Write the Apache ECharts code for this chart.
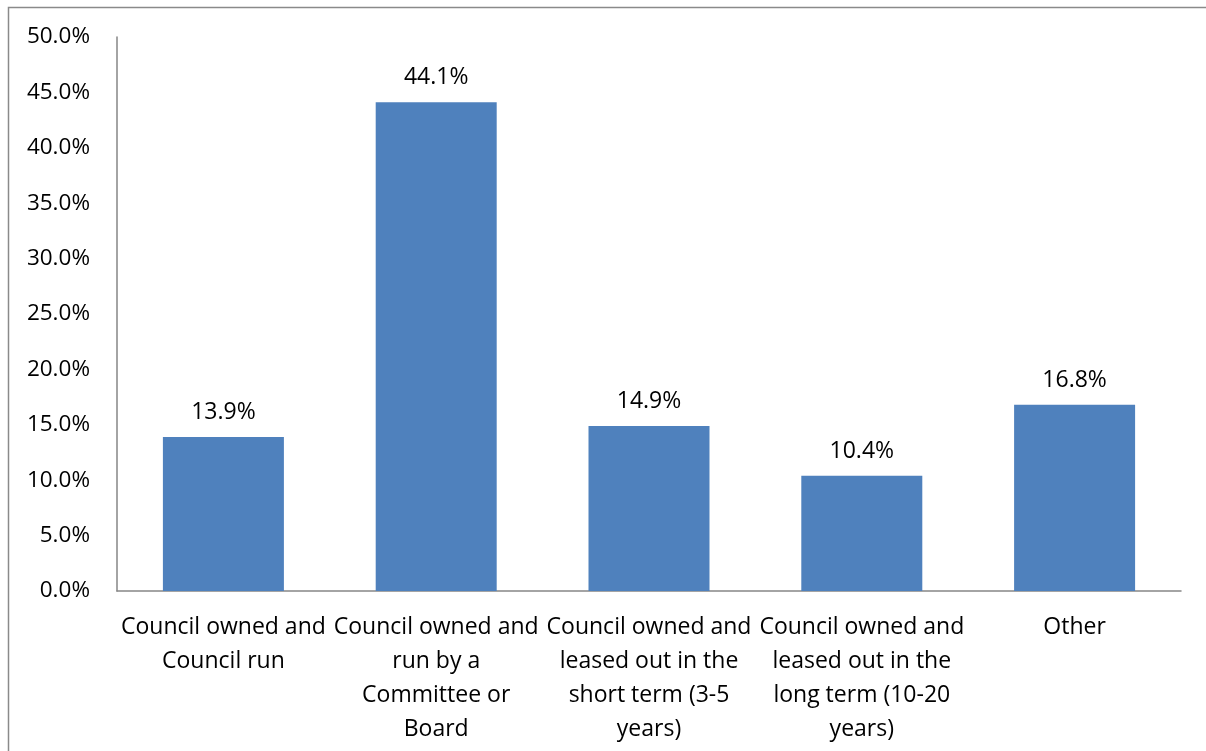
<!DOCTYPE html>
<html>
<head>
<meta charset="utf-8">
<script src="https://cdn.jsdelivr.net/npm/echarts@6/dist/echarts.min.js"></script>
<style>
  html, body { margin: 0; padding: 0; background: #fff; }
  #chart { width: 1206px; height: 751px; }
</style>
</head>
<body>
<div id="chart"></div>
<script>
// Ownership / management arrangements (share of respondents, %)
const categories = [
  'Council owned and\nCouncil run',
  'Council owned and\nrun by a\nCommittee or\nBoard',
  'Council owned and\nleased out in the\nshort term (3-5\nyears)',
  'Council owned and\nleased out in the\nlong term (10-20\nyears)',
  'Other'
];
const shares = [13.9, 44.1, 14.9, 10.4, 16.8];

const FONT = '"Open Sans", sans-serif';
const chart = echarts.init(document.getElementById('chart'));

chart.setOption({
  animation: false,
  backgroundColor: '#fff',
  textStyle: { fontFamily: FONT },
  graphic: [{
    type: 'rect',
    shape: { x: 8.5, y: 7.5, width: 1400, height: 900 },
    style: { fill: 'none', stroke: '#8a8a8a', lineWidth: 1.5 },
    silent: true
  }],
  grid: { left: 117, right: 25, top: 37, bottom: 160 },
  xAxis: {
    type: 'category',
    data: categories,
    axisLine: { lineStyle: { color: '#868686', width: 1.5 } },
    axisTick: { show: false },
    axisLabel: {
      interval: 0,
      margin: 19,
      color: '#000',
      fontFamily: FONT,
      fontSize: 23,
      lineHeight: 34
    }
  },
  yAxis: {
    type: 'value',
    min: 0,
    max: 50,
    interval: 5,
    splitLine: { show: false },
    axisLine: { show: true, lineStyle: { color: '#868686', width: 1.5 } },
    axisTick: { show: false },
    axisLabel: {
      margin: 27,
      color: '#000',
      fontFamily: FONT,
      fontSize: 22.5,
      formatter: v => v.toFixed(1) + '%'
    }
  },
  series: [{
    type: 'bar',
    data: shares,
    barWidth: 121,
    itemStyle: { color: '#4F81BD' },
    label: {
      show: true,
      position: 'top',
      distance: 13,
      color: '#000',
      fontFamily: FONT,
      fontSize: 23,
      formatter: p => p.value.toFixed(1) + '%'
    }
  }]
});
</script>
</body>
</html>
